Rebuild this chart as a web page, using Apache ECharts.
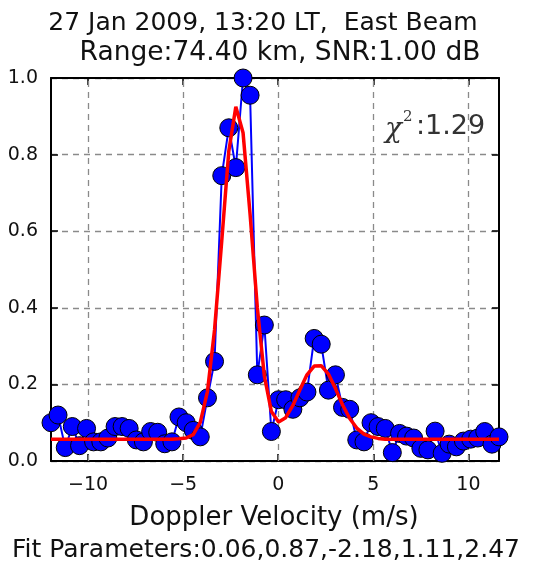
<!DOCTYPE html>
<html>
<head>
<meta charset="utf-8">
<script src="https://cdn.jsdelivr.net/npm/echarts@6/dist/echarts.min.js"></script>
<style>
  html, body { margin: 0; padding: 0; background: #fff; }
  #chart { width: 553px; height: 566px; }
</style>
</head>
<body>
<div id="chart"></div>
<script>
// Doppler velocity bins (m/s)
const velocity = [
  -11.95, -11.58, -11.20, -10.83, -10.45, -10.08, -9.71, -9.33, -8.96, -8.58,
  -8.21, -7.84, -7.46, -7.09, -6.71, -6.34, -5.97, -5.59, -5.22, -4.84,
  -4.47, -4.10, -3.72, -3.35, -2.97, -2.60, -2.23, -1.85, -1.48, -1.10,
  -0.73, -0.36, 0.02, 0.39, 0.77, 1.14, 1.51, 1.89, 2.26, 2.64,
  3.01, 3.38, 3.76, 4.13, 4.51, 4.88, 5.25, 5.63, 6.00, 6.38,
  6.75, 7.12, 7.50, 7.87, 8.25, 8.62, 8.99, 9.37, 9.74, 10.12,
  10.49, 10.86, 11.24, 11.61
];

// Normalised spectral power
const power = [
  0.100, 0.120, 0.035, 0.090, 0.040, 0.085, 0.050, 0.050, 0.060, 0.090,
  0.090, 0.085, 0.055, 0.050, 0.077, 0.075, 0.045, 0.050, 0.115, 0.100,
  0.080, 0.063, 0.165, 0.260, 0.745, 0.870, 0.766, 1.000, 0.955, 0.225,
  0.355, 0.077, 0.160, 0.160, 0.135, 0.165, 0.180, 0.320, 0.305, 0.185,
  0.225, 0.140, 0.135, 0.055, 0.050, 0.100, 0.090, 0.085, 0.022, 0.072,
  0.065, 0.060, 0.033, 0.029, 0.078, 0.020, 0.044, 0.037, 0.052, 0.057,
  0.060, 0.077, 0.044, 0.063
];

// Fitted spectrum on the same bins
const fitted = [
  0.057, 0.057, 0.057, 0.057, 0.057, 0.057, 0.057, 0.057, 0.057, 0.057,
  0.057, 0.057, 0.057, 0.057, 0.057, 0.057, 0.057, 0.057, 0.058, 0.060,
  0.069, 0.101, 0.182, 0.342, 0.575, 0.809, 0.925, 0.857, 0.644, 0.401,
  0.222, 0.129, 0.102, 0.113, 0.145, 0.186, 0.225, 0.248, 0.249, 0.227,
  0.189, 0.147, 0.111, 0.086, 0.070, 0.063, 0.059, 0.057, 0.057, 0.057,
  0.057, 0.057, 0.057, 0.057, 0.057, 0.057, 0.057, 0.057, 0.057, 0.057,
  0.057, 0.057, 0.057, 0.057
];

const xTicks = [-10, -5, 0, 5, 10];
const yTicks = [0.0, 0.2, 0.4, 0.6, 0.8, 1.0];

const titleLines = ['27 Jan 2009, 13:20 LT,  East Beam', 'Range:74.40 km, SNR:1.00 dB'];
const xName = 'Doppler Velocity (m/s)';
const fitText = 'Fit Parameters:0.06,0.87,-2.18,1.11,2.47';
const chiValue = ':1.29';

const FONT = 'DejaVu Sans';
const TXT = '#111';

const chart = echarts.init(document.getElementById('chart'), null, { renderer: 'canvas' });

const frameLine = { show: true, onZero: false, lineStyle: { color: '#000', width: 2 } };
const tickStyle = { color: '#000', width: 1.5 };
const gridStyle = { color: '#8a8a8a', width: 1.3, type: [6, 5] };

function xAxisDef(pos, withLabels) {
  return {
    type: 'value', position: pos, min: velocity[0], max: velocity[velocity.length - 1],
    axisLine: frameLine,
    axisTick: { show: true, inside: true, length: 7, customValues: xTicks, lineStyle: tickStyle },
    axisLabel: {
      show: withLabels, customValues: xTicks, margin: 15,
      fontFamily: FONT, fontSize: 19, color: TXT,
      formatter: v => (v < 0 ? '\u2212' : '') + Math.abs(v)
    },
    splitLine: { show: false }
  };
}
function yAxisDef(pos, withLabels) {
  return {
    type: 'value', position: pos, min: 0, max: 1, interval: 0.2,
    axisLine: frameLine,
    axisTick: { show: true, inside: true, length: 7, lineStyle: tickStyle },
    axisLabel: {
      show: withLabels, margin: 13,
      fontFamily: FONT, fontSize: 19, color: TXT,
      formatter: v => v.toFixed(1)
    },
    splitLine: { show: withLabels, lineStyle: gridStyle }
  };
}

const option = {
  animation: false,
  backgroundColor: '#fff',
  grid: { left: 51, right: 54, top: 78, bottom: 105 },
  xAxis: [xAxisDef('bottom', true), xAxisDef('top', false)],
  yAxis: [yAxisDef('left', true), yAxisDef('right', false)],
  series: [
    {
      type: 'line',
      data: velocity.map((v, i) => [v, power[i]]),
      symbol: 'circle', symbolSize: 18,
      itemStyle: { color: '#0000ff', borderColor: '#000', borderWidth: 1 },
      lineStyle: { color: '#0000ff', width: 2 },
      z: 3,
      markLine: {
        silent: true, symbol: 'none', label: { show: false },
        lineStyle: gridStyle,
        z: 1,
        data: xTicks.map(t => ({ xAxis: t }))
      }
    },
    {
      type: 'line',
      data: velocity.map((v, i) => [v, fitted[i]]),
      symbol: 'none',
      lineStyle: { color: '#ff0000', width: 3.5 },
      z: 4
    }
  ],
  graphic: [
    { type: 'text', x: 263, y: 23, style: { text: titleLines[0], font: '25px "DejaVu Sans"', fill: TXT, textAlign: 'center', textVerticalAlign: 'middle' } },
    { type: 'text', x: 280, y: 53, style: { text: titleLines[1], font: '26.5px "DejaVu Sans"', fill: TXT, textAlign: 'center', textVerticalAlign: 'middle' } },
    { type: 'text', x: 274, y: 518, style: { text: xName, font: '26px "DejaVu Sans"', fill: TXT, textAlign: 'center', textVerticalAlign: 'middle' } },
    { type: 'text', x: 266, y: 550, style: { text: fitText, font: '25px "DejaVu Sans"', fill: TXT, textAlign: 'center', textVerticalAlign: 'middle' } },
    { type: 'text', x: 385, y: 130, z: 10, style: { text: '\u03c7', font: 'italic 28px "DejaVu Serif"', fill: '#333', textAlign: 'left', textVerticalAlign: 'middle' } },
    { type: 'text', x: 403, y: 117, z: 10, style: { text: '2', font: '15px "DejaVu Serif"', fill: '#333', textAlign: 'left', textVerticalAlign: 'middle' } },
    { type: 'text', x: 416, y: 127, z: 10, style: { text: chiValue, font: '27px "DejaVu Sans"', fill: '#333', textAlign: 'left', textVerticalAlign: 'middle' } }
  ]
};

chart.setOption(option);
</script>
</body>
</html>
